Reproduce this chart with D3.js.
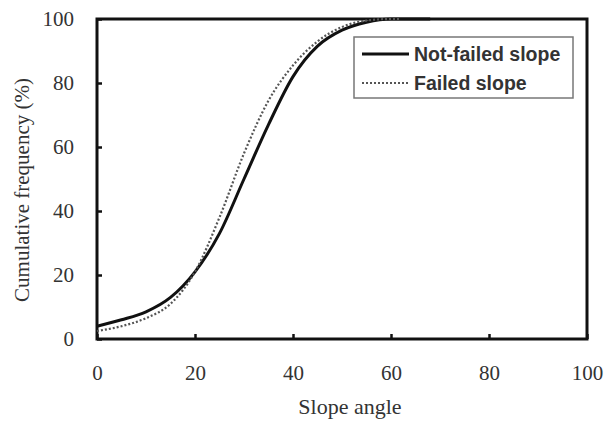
<!DOCTYPE html>
<html><head><meta charset="utf-8">
<script src="https://cdn.jsdelivr.net/npm/d3@7"></script>
<style>html,body{margin:0;padding:0;background:#fff;}</style>
</head><body>
<svg id="c" width="616" height="423"></svg>
<script>
const angles = [0, 5, 10, 15, 20, 25, 30, 35, 40, 45, 50, 55, 60, 65, 68];
const notFailed = [4, 6, 8.5, 13, 21, 33, 50, 67, 82, 91.5, 96.5, 99, 100, 100, 100];
const failedAngles = [0, 5, 10, 15, 20, 25, 30, 35, 40, 45, 50, 55, 60, 62];
const failed = [2.5, 4, 6.5, 11, 21, 38, 58, 74.5, 85.5, 93, 97.5, 99.5, 100, 100];
const xTicks = [0, 20, 40, 60, 80, 100];
const yTicks = [0, 20, 40, 60, 80, 100];
const seriesNames = ["Not-failed slope", "Failed slope"];

const svg = d3.select("#c");
const L = 97, R = 587, T = 19, B = 339;
const x = d3.scaleLinear().domain([0, 100]).range([L, R]);
const y = d3.scaleLinear().domain([0, 100]).range([B, T]);

const serif = "'Liberation Serif','Times New Roman',serif";
const sans = "'Liberation Sans',Arial,sans-serif";

// frame
svg.append("rect").attr("x", L).attr("y", T).attr("width", R - L).attr("height", B - T)
  .attr("fill", "none").attr("stroke", "#111").attr("stroke-width", 3);

// axes
const xAxis = svg.append("g").attr("transform", `translate(0,${B})`)
  .call(d3.axisBottom(x).tickValues(xTicks).tickSize(-5).tickPadding(26));
const yAxis = svg.append("g").attr("transform", `translate(${L},0)`)
  .call(d3.axisLeft(y).tickValues(yTicks).tickSize(-5).tickPadding(23));
[xAxis, yAxis].forEach(a => {
  a.select(".domain").remove();
  a.selectAll("line").attr("stroke", "#111").attr("stroke-width", 2.5);
  a.selectAll("text").attr("font-family", serif).attr("font-size", 21).attr("fill", "#333");
});

const line = d3.line().curve(d3.curveMonotoneX);
svg.append("path")
  .attr("d", line(angles.map((a, i) => [x(a), y(notFailed[i])])))
  .attr("fill", "none").attr("stroke", "#111").attr("stroke-width", 3);
svg.append("path")
  .attr("d", line(failedAngles.map((a, i) => [x(a), y(failed[i])])))
  .attr("fill", "none").attr("stroke", "#555").attr("stroke-width", 2.2)
  .attr("stroke-dasharray", "2,2");

// axis titles
svg.append("text").attr("x", 350).attr("y", 414).attr("text-anchor", "middle")
  .attr("font-family", serif).attr("font-size", 22).attr("fill", "#333").text("Slope angle");
svg.append("text").attr("transform", `translate(29,190) rotate(-90)`)
  .attr("text-anchor", "middle").attr("font-family", serif).attr("font-size", 21)
  .attr("fill", "#333").text("Cumulative frequency (%)");

// legend
const lg = svg.append("g");
lg.append("rect").attr("x", 354).attr("y", 37).attr("width", 219).attr("height", 61)
  .attr("fill", "#fff").attr("stroke", "#777").attr("stroke-width", 1.5);
const styles = [{c: "#111", w: 3, d: null}, {c: "#555", w: 2.2, d: "2,2"}];
seriesNames.forEach((n, i) => {
  const yy = 54 + i * 29;
  lg.append("line").attr("x1", 362).attr("x2", 409).attr("y1", yy).attr("y2", yy)
    .attr("stroke", styles[i].c).attr("stroke-width", styles[i].w)
    .attr("stroke-dasharray", styles[i].d);
  lg.append("text").attr("x", 414).attr("y", yy + 7).attr("font-family", sans)
    .attr("font-size", 19.5).attr("font-weight", "bold").attr("fill", "#333").text(n);
});
</script>
</body></html>
